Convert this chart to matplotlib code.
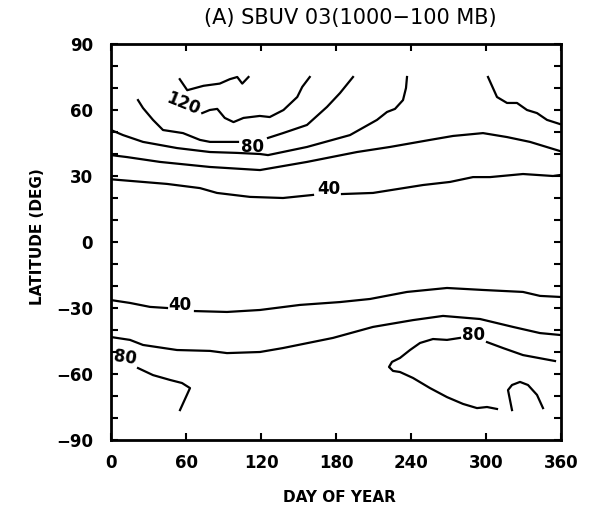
import matplotlib
matplotlib.use("Agg")
import matplotlib.pyplot as plt

# contour lines (day of year, latitude)
# northern hemisphere
nh140_day = [55, 61, 74, 87, 95, 101, 105, 110]
nh140_lat = [74, 69, 71, 72, 74, 75, 72, 75]

nh120_day = [73, 79, 85, 91, 98, 106, 119, 127, 138, 149, 153, 159]
nh120_lat = [58.6, 60, 60.5, 56.4, 54.5, 56.4, 57.3, 56.8, 60, 65.9, 70.5, 75]

nh80a_day = [21.6, 25.6, 33.6, 41.6, 57.6, 71.2, 79.2, 101.6]
nh80a_lat = [64.5, 60.9, 55.5, 50.9, 49.5, 46.4, 45.5, 45.5]
nh80b_day = [125.6, 137.6, 156.8, 172.8, 183.2, 193.6]
nh80b_lat = [47.3, 49.5, 53.2, 61.4, 67.7, 75]

nh70_day = [0, 9.6, 25.6, 52.8, 79.2, 100.8, 119.2, 125.6, 156.8, 191.2, 212.8,
            220.8, 227.2, 233.6, 236, 236.8]
nh70_lat = [50.9, 48.6, 45.5, 42.7, 40.9, 40.5, 40, 39.5, 43.2, 48.6, 55.5,
            59.1, 60.5, 64.5, 70, 75]

nh60_day = [0, 12.8, 39.2, 79.2, 119.2, 156.8, 196.8, 223.2, 255.2, 273.6,
            297.6, 316.8, 335.2, 360]
nh60_lat = [39.5, 38.6, 36.4, 34.1, 32.7, 36.4, 40.9, 43.2, 46.4, 48.2,
            49.5, 47.7, 45.5, 41.2]

nh40a_day = [0, 44.8, 71.2, 84.8, 111.2, 137.6, 161.6]
nh40a_lat = [28.5, 26.4, 24.5, 22.3, 20.5, 20, 21.4]
nh40b_day = [184.8, 209.6, 249.6, 271.2, 289.6, 303.2, 329.6, 353.6, 360]
nh40b_lat = [21.8, 22.3, 25.9, 27.3, 29.5, 29.5, 30.9, 30, 30.5]

nhright_day = [301.6, 308.8, 316.8, 324.8, 332.8, 340.8, 348.8, 359.2]
nhright_lat = [75, 65.9, 63.2, 63.2, 60, 58.6, 55.5, 53.6]

# southern hemisphere
sh40a_day = [0, 15.2, 31.2, 44.8]
sh40a_lat = [-26.4, -27.7, -29.5, -30]
sh40b_day = [67.2, 92.8, 119.2, 151.2, 183.2, 207.2, 236.8, 268.8, 297.6,
             329.6, 343.2, 360]
sh40b_lat = [-31.4, -31.8, -30.9, -28.6, -27.3, -25.9, -22.7, -20.9, -21.8,
             -22.7, -24.5, -25]

sh60_day = [0, 15.2, 25.6, 52.8, 79.2, 92.8, 119.2, 137.6, 177.6, 209.6,
            241.6, 265.6, 295.2, 321.6, 343.2, 360]
sh60_lat = [-43.2, -44.5, -46.8, -49.1, -49.5, -50.5, -50, -48.2, -43.6,
            -38.6, -35.5, -33.6, -35, -38.6, -41.4, -42.3]

sh80left_day = [21.6, 33.6, 47.2, 56.8, 63.2, 55.2]
sh80left_lat = [-57.3, -60.5, -62.7, -64.1, -66.4, -76.4]

sh80loop_day = [279.2, 268.8, 257.6, 247.2, 239.2, 231.2, 224.8, 222.4, 225.6,
                231.2, 241.6, 255.2, 268.8, 281.6, 292.8, 300.8, 308.8]
sh80loop_lat = [-43.6, -44.5, -44.1, -45.9, -49.1, -52.7, -54.5, -56.8, -58.6,
                -59.1, -61.8, -66.4, -70.5, -73.6, -75.5, -75, -75.9]
sh80right_day = [300.8, 313.6, 329.6, 355.2]
sh80right_lat = [-45.5, -48.2, -51.4, -54.1]

shcap_day = [320.8, 317.6, 320.8, 327.2, 333.6, 340.8, 345.6]
shcap_lat = [-76.4, -67.3, -65, -63.6, -65, -69.5, -75.5]

# contour labels
label_text = ["120", "80", "40", "40", "80", "80"]
label_day = [58, 113, 174, 55, 11, 290]
label_lat = [63, 43, 24, -28.6, -52.5, -42.3]
label_rot = [-22, 0, 0, 0, -8, 0]

day_ticks = [0, 60, 120, 180, 240, 300, 360]
lat_ticks = [-90, -60, -30, 0, 30, 60, 90]

segments = [
    (nh140_day, nh140_lat), (nh120_day, nh120_lat),
    (nh80a_day, nh80a_lat), (nh80b_day, nh80b_lat),
    (nh70_day, nh70_lat), (nh60_day, nh60_lat),
    (nh40a_day, nh40a_lat), (nh40b_day, nh40b_lat),
    (nhright_day, nhright_lat),
    (sh40a_day, sh40a_lat), (sh40b_day, sh40b_lat),
    (sh60_day, sh60_lat), (sh80left_day, sh80left_lat),
    (sh80loop_day, sh80loop_lat), (sh80right_day, sh80right_lat),
    (shcap_day, shcap_lat),
]

fig = plt.figure(figsize=(5.93, 5.13), dpi=100)
ax = fig.add_axes([111 / 593, 1 - 440 / 513, 450 / 593, 396 / 513])

for d, l in segments:
    ax.plot(d, l, color="black", linewidth=1.6, solid_joinstyle="round")

for t, d, l, r in zip(label_text, label_day, label_lat, label_rot):
    ax.text(d, l, t, ha="center", va="center", rotation=r,
            fontsize=12, fontweight="bold")

ax.set_xlim(0, 360)
ax.set_ylim(-90, 90)
ax.set_xticks(day_ticks)
ax.set_yticks(lat_ticks)
ax.set_yticks(range(-80, 90, 10), minor=True)
ax.tick_params(direction="in", top=True, right=True, length=5, width=1.5,
               labelsize=12)
ax.tick_params(axis="y", pad=13)
ax.tick_params(axis="x", pad=10)
ax.tick_params(axis="y", which="minor", direction="in", right=True,
               length=5, width=1.5)
for lab in ax.get_xticklabels() + ax.get_yticklabels():
    lab.set_fontweight("bold")
for s in ax.spines.values():
    s.set_linewidth(2)

fig.text(350 / 593, 1 - 18 / 513, "(A) SBUV 03(1000\u2212100 MB)",
         ha="center", va="center", fontsize=15)
fig.text(38 / 593, 1 - 237 / 513, "LATITUDE (DEG)", rotation=90,
         ha="center", va="center", fontsize=11, fontweight="bold")
fig.text(339 / 593, 1 - 497 / 513, "DAY OF YEAR",
         ha="center", va="center", fontsize=11, fontweight="bold")

fig.savefig("out.png", dpi=100)
